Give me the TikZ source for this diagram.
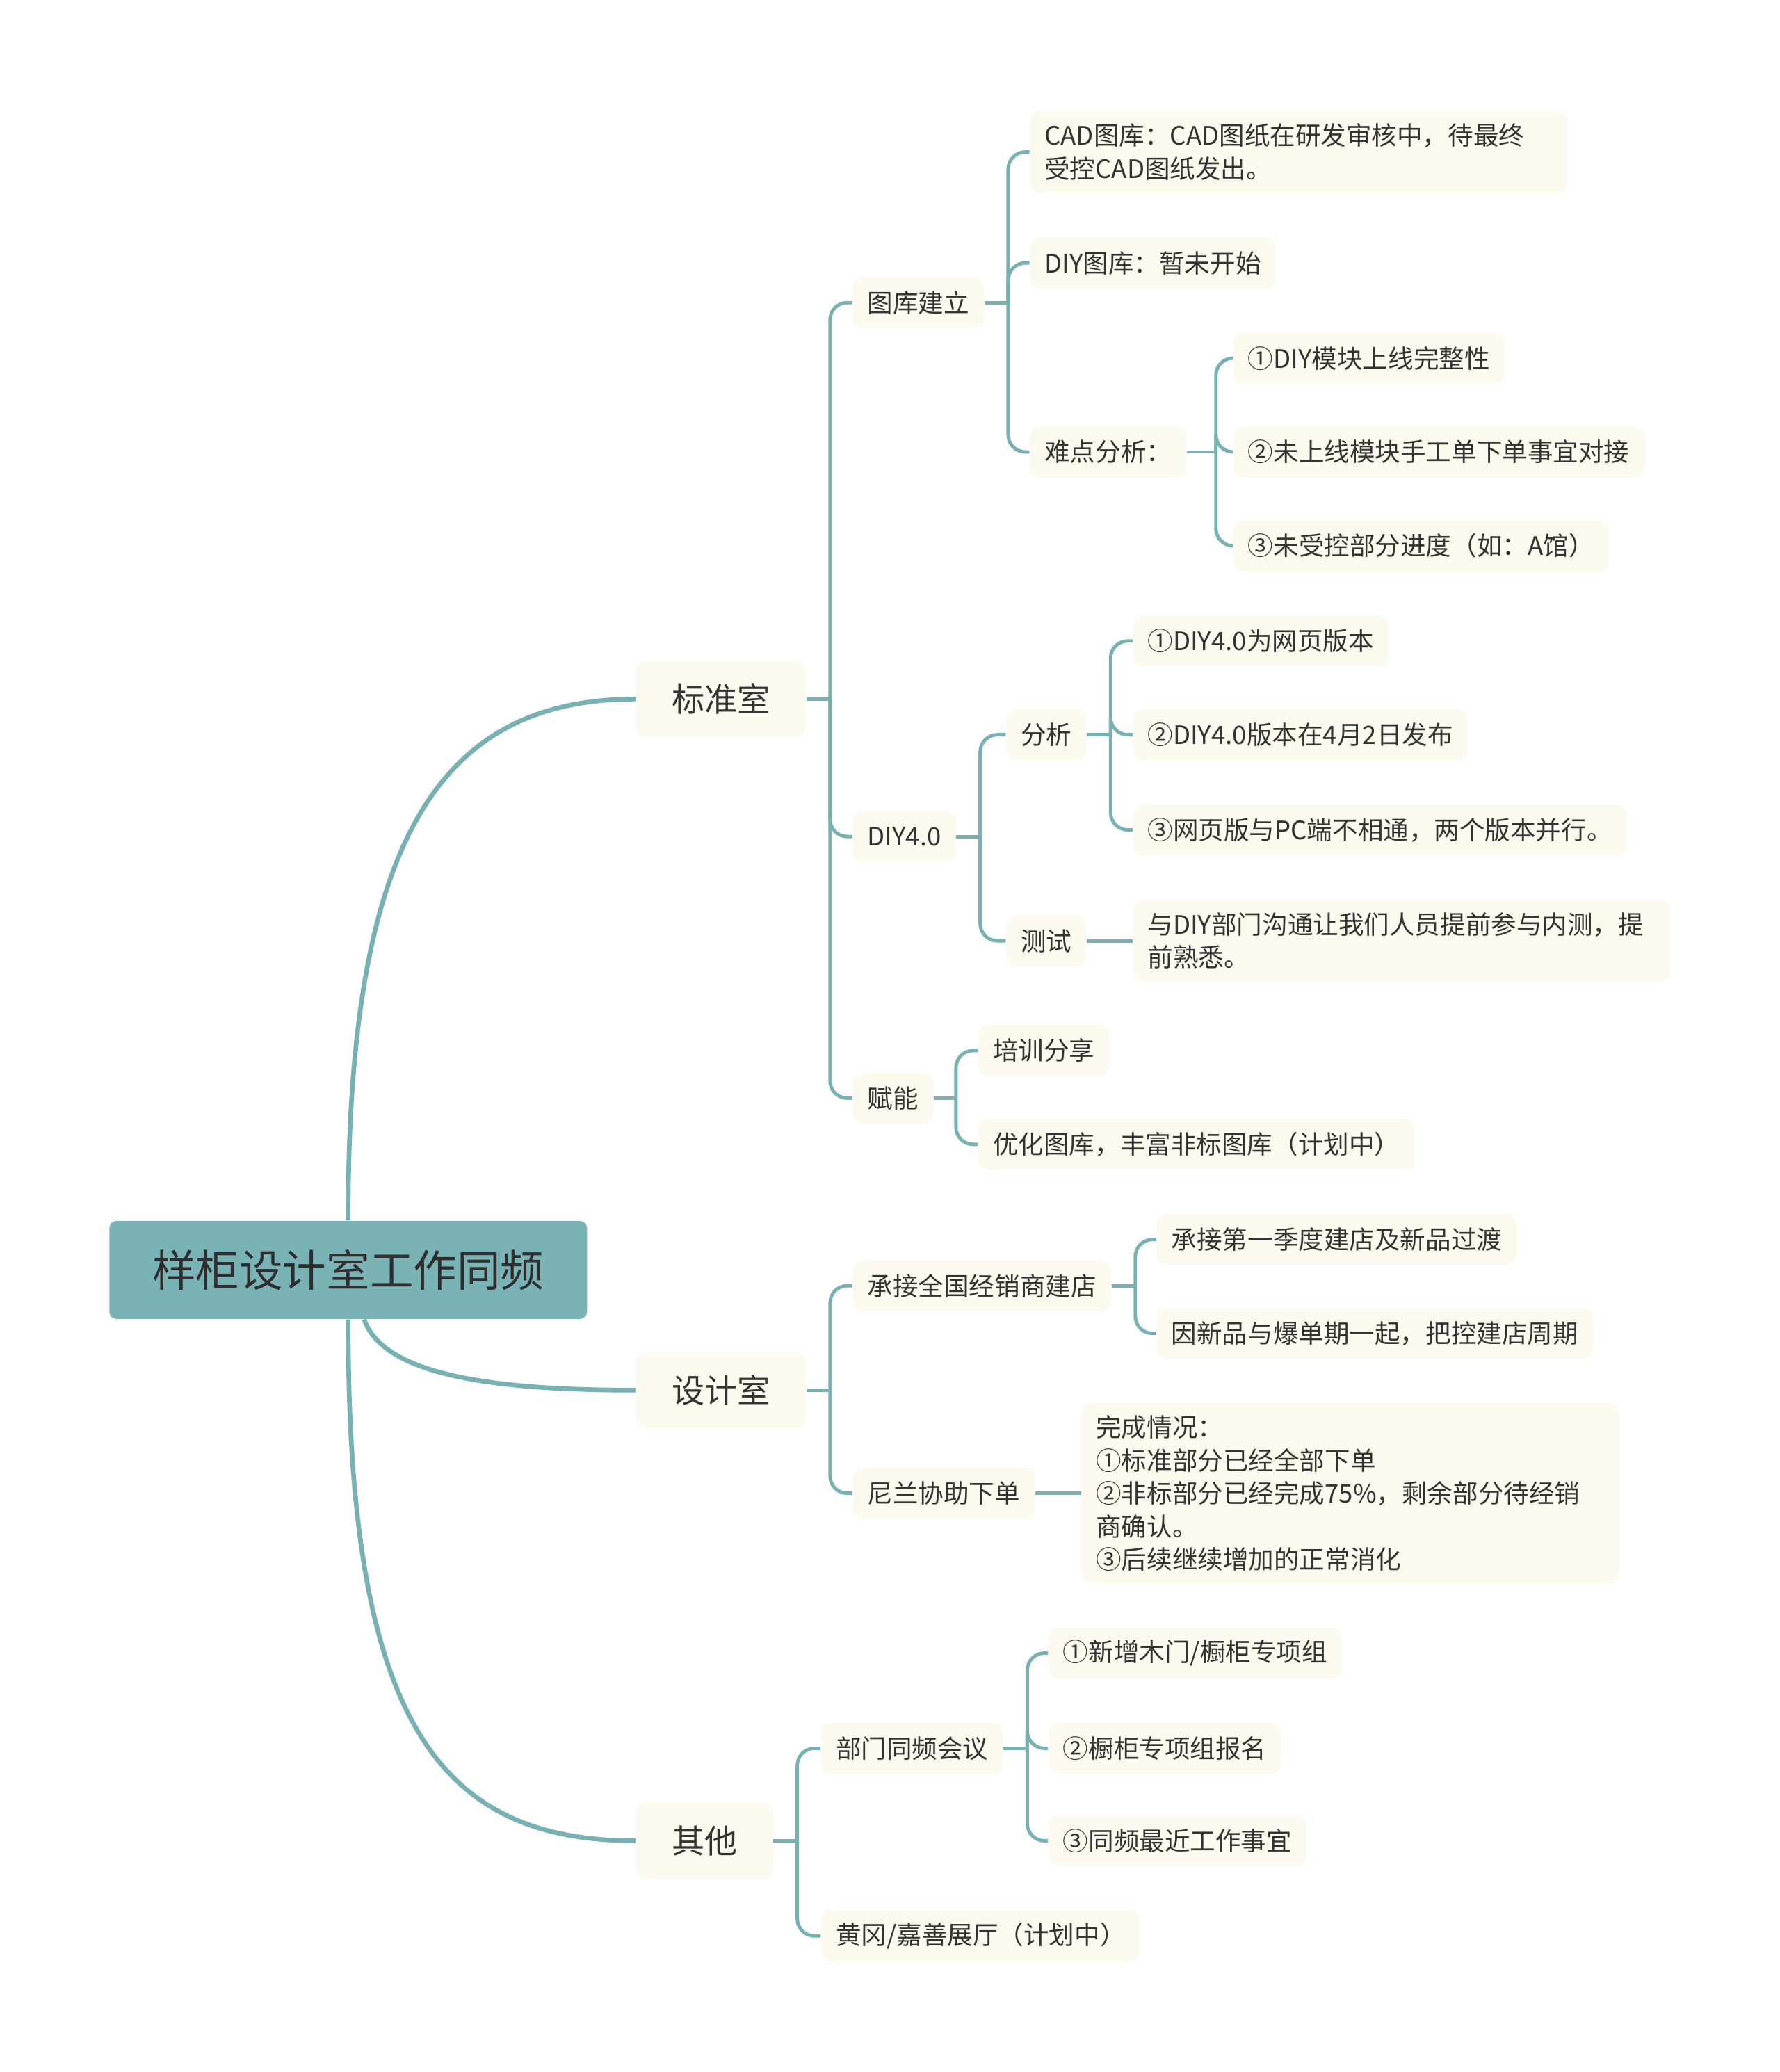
\documentclass[tikz,border=0pt]{standalone}
\usepackage{fontspec}
\setmainfont{Noto Sans CJK SC}
\usetikzlibrary{positioning}
\definecolor{tealline}{HTML}{78B1B3}
\definecolor{rootfill}{HTML}{79B3B5}
\definecolor{cream}{HTML}{FCF9EF}
\definecolor{ink}{HTML}{333333}

\begin{document}
\begin{tikzpicture}[x=0.019cm, y=-0.019cm,
  rootbox/.style={rectangle, rounded corners=3pt, fill=rootfill, text=ink!90!black,
                  inner xsep=17.6pt, minimum height=1.41cm, font=\fontsize{17.8}{21}\selectfont},
  topbox/.style={rectangle, rounded corners=4pt, fill=cream, text=ink, anchor=west,
                 inner xsep=14.6pt, minimum height=1.1cm, font=\fontsize{13.4}{16}\selectfont},
  subbox/.style={rectangle, rounded corners=4pt, fill=cream, text=ink, anchor=west,
                 inner xsep=6pt, inner ysep=5pt, minimum height=0.73cm,
                 font=\fontsize{10.4}{13.5}\selectfont},
  longbox/.style={subbox, text width=7.3cm, align=left},
  mainlink/.style={draw=tealline, line width=1.9pt},
  sublink/.style={draw=tealline, line width=1.4pt, rounded corners=7pt}
]

%% 画布
\fill[white] (0,0) rectangle (1347,1568);

%% 中心主题
\node[rootbox] (root) at (263.5,961) {样柜设计室工作同频};

%% 一级分支
\node[topbox] (bzs) at (481,529)  {标准室};
\node[topbox] (sjs) at (481,1052) {设计室};
\node[topbox] (qt)  at (481,1393) {其他};

%% 标准室
\node[subbox]  (tkjl)  at (645,229) {图库建立};
\node[longbox] (cad)   at (779,115) {CAD图库：CAD图纸在研发审核中，待最终\\受控CAD图纸发出。};
\node[subbox]  (diytk) at (779,199) {DIY图库：暂未开始};
\node[subbox]  (ndfx)  at (779,342) {难点分析：};
\node[subbox]  (nd1)   at (933,271) {①DIY模块上线完整性};
\node[subbox]  (nd2)   at (933,342) {②未上线模块手工单下单事宜对接};
\node[subbox]  (nd3)   at (933,413) {③未受控部分进度（如：A馆）};

\node[subbox]  (diy4) at (645,633) {DIY4.0};
\node[subbox]  (fx)   at (761,556) {分析};
\node[subbox]  (fx1)  at (857,485) {①DIY4.0为网页版本};
\node[subbox]  (fx2)  at (857,556) {②DIY4.0版本在4月2日发布};
\node[subbox]  (fx3)  at (857,628) {③网页版与PC端不相通，两个版本并行。};
\node[subbox]  (cs)   at (761,712) {测试};
\node[longbox] (cs1)  at (857,712) {与DIY部门沟通让我们人员提前参与内测，提\\前熟悉。};

\node[subbox] (fn)  at (645,831) {赋能};
\node[subbox] (fn1) at (740,795) {培训分享};
\node[subbox] (fn2) at (740,866) {优化图库，丰富非标图库（计划中）};

%% 设计室
\node[subbox]  (cj)  at (645,973)  {承接全国经销商建店};
\node[subbox]  (cj1) at (875,938)  {承接第一季度建店及新品过渡};
\node[subbox]  (cj2) at (875,1009) {因新品与爆单期一起，把控建店周期};
\node[subbox]  (nl)  at (645,1130) {尼兰协助下单};
\node[longbox] (nl1) at (818,1130) {完成情况：\\①标准部分已经全部下单\\②非标部分已经完成75\%，剩余部分待经销\\商确认。\\③后续继续增加的正常消化};

%% 其他
\node[subbox] (bm)  at (621,1323) {部门同频会议};
\node[subbox] (bm1) at (793,1251) {①新增木门/橱柜专项组};
\node[subbox] (bm2) at (793,1323) {②橱柜专项组报名};
\node[subbox] (bm3) at (793,1393) {③同频最近工作事宜};
\node[subbox] (hg)  at (621,1465) {黄冈/嘉善展厅（计划中）};

%% 主干曲线
\draw[mainlink] (root.north) .. controls (263,640) and (330,529) .. (bzs.west);
\draw[mainlink] ([xshift=0.23cm]root.south) .. controls (290,1040) and (370,1052) .. (sjs.west);
\draw[mainlink] (root.south) .. controls (263,1300) and (330,1393) .. (qt.west);

%% 标准室连线
\draw[sublink] (bzs.east) -- ++(18,0);
\draw[sublink] (bzs.east) ++(18,0) |- (tkjl.west);
\draw[sublink] (bzs.east) ++(18,0) |- (diy4.west);
\draw[sublink] (bzs.east) ++(18,0) |- (fn.west);

\draw[sublink] (tkjl.east) -- ++(18,0);
\draw[sublink] (tkjl.east) ++(18,0) |- (cad.west);
\draw[sublink] (tkjl.east) ++(18,0) |- (diytk.west);
\draw[sublink] (tkjl.east) ++(18,0) |- (ndfx.west);

\draw[sublink] (ndfx.east) -- ++(22,0);
\draw[sublink] (ndfx.east) ++(22,0) |- (nd1.west);
\draw[sublink] (ndfx.east) ++(22,0) |- (nd2.west);
\draw[sublink] (ndfx.east) ++(22,0) |- (nd3.west);

\draw[sublink] (diy4.east) -- ++(18,0);
\draw[sublink] (diy4.east) ++(18,0) |- (fx.west);
\draw[sublink] (diy4.east) ++(18,0) |- (cs.west);

\draw[sublink] (fx.east) -- ++(18,0);
\draw[sublink] (fx.east) ++(18,0) |- (fx1.west);
\draw[sublink] (fx.east) ++(18,0) |- (fx2.west);
\draw[sublink] (fx.east) ++(18,0) |- (fx3.west);
\draw[sublink] (cs.east) -- (cs.east -| cs1.west);

\draw[sublink] (fn.east) -- ++(17,0);
\draw[sublink] (fn.east) ++(17,0) |- (fn1.west);
\draw[sublink] (fn.east) ++(17,0) |- (fn2.west);

%% 设计室连线
\draw[sublink] (sjs.east) -- ++(18,0);
\draw[sublink] (sjs.east) ++(18,0) |- (cj.west);
\draw[sublink] (sjs.east) ++(18,0) |- (nl.west);

\draw[sublink] (cj.east) -- ++(18,0);
\draw[sublink] (cj.east) ++(18,0) |- (cj1.west);
\draw[sublink] (cj.east) ++(18,0) |- (cj2.west);
\draw[sublink] (nl.east) -- (nl.east -| nl1.west);

%% 其他连线
\draw[sublink] (qt.east) -- ++(18,0);
\draw[sublink] (qt.east) ++(18,0) |- (bm.west);
\draw[sublink] (qt.east) ++(18,0) |- (hg.west);

\draw[sublink] (bm.east) -- ++(18,0);
\draw[sublink] (bm.east) ++(18,0) |- (bm1.west);
\draw[sublink] (bm.east) ++(18,0) |- (bm2.west);
\draw[sublink] (bm.east) ++(18,0) |- (bm3.west);

\end{tikzpicture}
\end{document}
